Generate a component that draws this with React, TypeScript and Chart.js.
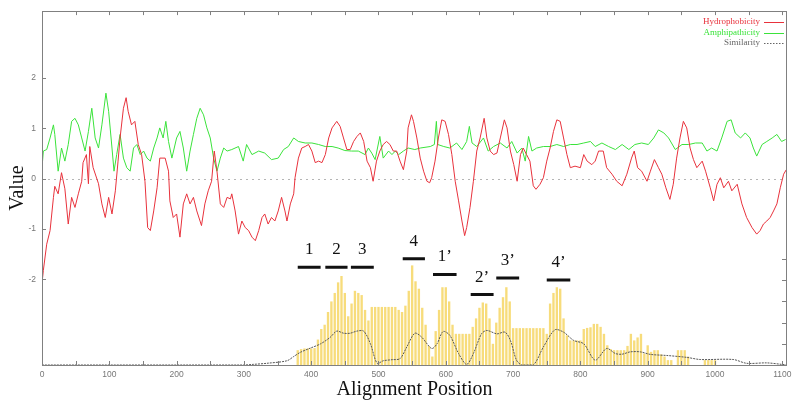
import React, { useEffect, useRef } from 'react';
import { Chart, registerables } from 'chart.js';
Chart.register(...registerables);

// ---- Hydrophobicity (red) ----
const hydroPos = [0,2,7,12,17,19,24,29,34,39,44,49,54,59,61,66,69,71,76,84,89,94,99,104,109,113,116,121,125,128,133,138,143,148,153,157,161,166,171,175,183,188,190,195,200,205,210,215,220,225,230,237,242,247,252,256,260,265,270,275,280,282,287,292,297,302,307,312,317,322,327,331,336,341,346,351,356,361,364,369,374,376,381,386,391,396,401,406,411,416,421,426,431,438,443,448,453,458,463,468,473,478,483,488,492,497,502,507,512,517,522,527,532,537,542,544,549,552,557,562,567,572,576,579,584,589,594,599,604,609,614,619,624,628,631,636,641,646,651,657,661,666,671,676,681,687,691,696,701,706,711,715,720,725,730,734,740,745,750,755,760,765,770,775,780,785,792,800,805,810,817,822,827,834,839,847,854,862,869,876,880,885,891,899,904,910,916,921,927,933,938,943,948,953,958,963,968,973,981,986,993,998,1003,1008,1013,1020,1025,1033,1040,1047,1055,1062,1067,1072,1077,1082,1087,1092,1097,1102,1106];
const hydroVal = [-2.08,-1.82,-1.3,-1.03,-0.37,-0.15,-0.3,0.12,-0.2,-0.9,-0.37,-0.57,-0.3,-0.05,0.32,0.48,-0.1,0.64,0.22,-0.1,-0.5,-0.77,-0.37,-0.7,-0.24,0.35,0.81,1.4,1.61,1.34,1.07,1.14,0.68,0.48,-0.05,-0.97,-1.03,-0.64,-0.18,0.41,0.41,0.15,-0.44,-0.77,-0.7,-1.16,-0.5,-0.3,-0.5,-0.37,-0.64,-0.93,-0.5,-0.24,-0.05,0.55,0.15,-0.5,-0.57,-0.37,-0.4,-0.3,-0.64,-1.1,-0.84,-0.97,-1.03,-1.16,-1.23,-1.03,-0.77,-0.7,-0.9,-0.77,-0.84,-0.64,-0.37,-0.64,-0.84,-0.5,-0.3,0.02,0.41,0.61,0.64,0.68,0.55,0.32,0.35,0.32,0.48,0.81,1.01,1.14,1.04,0.81,0.58,0.58,0.74,0.84,0.91,0.74,0.35,0.22,-0.05,0.35,0.55,0.68,0.74,0.68,0.55,0.55,0.35,0.18,0.55,1.01,1.27,1.14,0.81,0.41,0.15,-0.05,-0.08,0.02,0.35,0.81,1.17,1.14,0.88,0.48,-0.05,-0.44,-0.84,-1.13,-0.97,-0.57,-0.05,0.55,0.81,1.2,0.81,0.55,0.48,0.51,0.81,1.17,1.01,0.55,0.28,-0.05,0.48,0.61,0.48,0.35,-0.14,-0.21,-0.11,0.02,0.35,0.61,0.94,1.17,1.14,0.81,0.48,0.22,0.25,0.22,0.48,0.35,0.28,0.35,0.55,0.55,0.22,0.09,-0.05,-0.14,0.09,0.41,0.55,0.22,0.15,-0.05,0.15,0.38,0.22,0.09,-0.18,-0.41,-0.11,0.41,0.81,1.14,1.01,0.61,0.38,0.22,0.35,0.15,-0.18,-0.44,-0.11,0.02,-0.18,-0.05,-0.24,-0.11,-0.5,-0.77,-0.97,-1.1,-1.03,-0.9,-0.84,-0.77,-0.64,-0.5,-0.18,0.09,0.18];

// ---- Amphipathicity (green) ----
const amphiPos = [0,2,7,12,17,19,24,29,34,39,44,49,54,59,64,69,74,79,84,89,95,99,104,107,111,116,121,126,131,136,141,146,151,156,161,166,171,175,180,184,188,193,200,205,210,215,220,225,230,235,240,245,250,255,260,265,270,275,282,292,299,304,312,322,331,341,351,359,366,374,381,391,401,411,421,431,440,450,460,470,480,485,490,495,502,507,515,520,525,530,537,544,554,562,577,583,586,588,597,606,616,624,631,635,639,646,656,663,671,681,691,698,706,713,718,723,728,735,745,755,765,775,785,795,805,815,822,832,842,852,862,872,881,891,901,909,916,924,931,941,951,961,971,981,988,995,1003,1010,1018,1024,1030,1038,1045,1052,1057,1062,1070,1077,1085,1092,1099,1105];
const amphiVal = [0.22,0.55,0.58,0.81,1.07,0.88,0.15,0.61,0.35,0.68,1.14,1.2,1.07,0.81,0.55,0.94,1.4,0.81,0.61,1.07,1.7,1.34,0.61,0.15,0.48,0.88,0.41,0.22,0.15,0.61,0.68,0.48,0.55,0.41,0.35,0.61,0.81,1.01,0.81,1.14,0.74,0.41,0.81,0.94,0.61,0.15,0.55,0.88,1.2,1.4,1.27,1.01,0.81,0.41,0.15,0.41,0.61,0.55,0.58,0.64,0.35,0.68,0.48,0.55,0.51,0.38,0.41,0.58,0.64,0.81,0.74,0.71,0.71,0.68,0.64,0.64,0.61,0.56,0.55,0.55,0.48,0.61,0.51,0.38,0.84,0.41,0.55,0.48,0.55,0.48,0.55,0.61,0.58,0.61,0.64,0.68,1.14,0.68,0.64,0.61,0.71,0.58,0.74,1.04,0.71,0.64,0.81,0.55,0.64,0.71,0.61,0.74,0.51,0.61,0.35,0.84,0.55,0.61,0.64,0.64,0.68,0.64,0.68,0.68,0.71,0.74,0.64,0.71,0.64,0.58,0.68,0.58,0.68,0.71,0.68,0.81,0.97,0.91,0.81,0.58,0.68,0.68,0.71,0.71,0.55,0.61,0.55,0.81,1.14,1.17,0.91,0.81,0.91,0.81,0.61,0.45,0.68,0.74,0.81,0.88,0.74,0.78];

// ---- Similarity (dotted, right axis) ----
const simPos = [0,300,314,334,364,374,384,399,414,428,438,448,458,468,478,488,498,507,520,532,542,554,564,579,587,596,606,619,631,641,653,661,676,688,696,705,713,730,745,762,775,790,805,822,839,852,862,874,889,904,928,958,978,1027,1047,1077,1099,1107];
const simVal = [0,0,0.03,0.08,0.2,0.4,0.6,0.8,1.0,1.3,1.6,1.5,1.5,1.6,1.6,1.0,0.08,0.2,0.25,0.3,0.85,1.5,1.32,0.78,1.0,1.58,1.4,0.54,0.03,0.54,1.47,1.63,1.47,1.55,1.16,0.23,0,0,0.85,1.66,1.55,1.16,1.0,0.23,0.78,0.54,0.51,0.62,0.62,0.5,0.45,0.36,0.26,0.26,0.08,0.1,0.03,0];

// ---- Yellow bars (right axis), one bar every 5 positions from 380 ----
const barStart = 380;
const barStep = 5;
const barVal = [0.7,0.75,0.78,0.78,0.78,0.8,1.2,1.7,1.9,2.5,3.0,3.4,3.9,4.2,3.4,2.3,2.9,3.5,3.4,3.3,2.6,2.1,2.74,2.74,2.74,2.74,2.74,2.74,2.74,2.74,2.6,2.5,2.8,3.5,4.7,3.95,3.6,2.7,1.9,0.9,0.4,1.6,2.6,3.67,3.67,3.0,1.9,1.47,1.47,1.47,1.47,1.47,1.8,2.2,2.7,2.95,2.9,2.2,1.0,2.0,2.7,3.2,3.67,3.0,1.74,1.74,1.74,1.74,1.74,1.74,1.74,1.74,1.74,1.74,1.47,2.9,3.4,3.67,3.6,2.2,1.4,1.16,1.16,1.16,1.16,1.7,1.75,1.78,1.94,1.94,1.8,1.47,0.93,0.75,0.7,0.7,0.7,0.7,0.9,1.47,1.16,1.3,1.47,0.54,0.93,0.62,0.7,0.7,0.5,0.4,0.23,0.23,0,0.7,0.7,0.7,0.4,0,0,0,0,0.23,0.23,0.23,0.23];

// ---- Repeat segments ----
const segLabels = ['1', '2', '3', '4', '1\u2019', '2\u2019', '3\u2019', '4\u2019'];
const segStart = [380, 421, 459, 536, 581, 637, 675, 750];
const segEnd = [414, 454, 493, 569, 616, 671, 709, 785];
const segY = [-1.76, -1.76, -1.76, -1.59, -1.9, -2.3, -1.97, -2.01];

// ---- Ticks / legend ----
const xTicks = [0, 100, 200, 300, 400, 500, 600, 700, 800, 900, 1000, 1100];
const yTicks = [-2, -1, 0, 1, 2];
const y2Ticks = [1, 2, 3, 4, 5];
const legendItems = ['Hydrophobicity', 'Amphipathicity', 'Similarity'];

const RED = '#e8323c';
const GREEN = '#3be33b';
const GRAY = '#555555';
const YELLOW = 'rgba(246, 214, 100, 0.85)';
const FRAME = '#808080';

const zip = (p: number[], v: number[]) => p.map((x, i) => ({ x, y: v[i] }));

const decor = {
  id: 'decor',
  beforeDatasetsDraw(chart: any) {
    const { ctx, chartArea: a, scales } = chart;
    const y0 = Math.round(scales.y.getPixelForValue(0)) + 0.5;
    ctx.save();
    ctx.strokeStyle = '#b5b5b5';
    ctx.lineWidth = 1;
    ctx.setLineDash([2, 4]);
    ctx.beginPath();
    ctx.moveTo(a.left, y0);
    ctx.lineTo(a.right, y0);
    ctx.stroke();
    ctx.restore();
  },
  afterDatasetsDraw(chart: any) {
    const { ctx, chartArea: a, scales } = chart;
    const { x, y, y2 } = scales;
    ctx.save();
    ctx.strokeStyle = FRAME;
    ctx.lineWidth = 1;
    ctx.strokeRect(Math.round(a.left) + 0.5, Math.round(a.top) + 0.5, Math.round(a.right - a.left) - 1, Math.round(a.bottom - a.top));
    ctx.beginPath();
    for (let v = 0; v <= 1100; v += 50) {
      const px = Math.round(x.getPixelForValue(v)) + 0.5;
      ctx.moveTo(px, a.top);
      ctx.lineTo(px, a.top + 4);
      ctx.moveTo(px, a.bottom);
      ctx.lineTo(px, a.bottom - 4);
    }
    yTicks.forEach((v) => {
      const py = Math.round(y.getPixelForValue(v)) + 0.5;
      ctx.moveTo(a.left, py);
      ctx.lineTo(a.left + 4, py);
    });
    y2Ticks.forEach((v) => {
      const py = Math.round(y2.getPixelForValue(v)) + 0.5;
      ctx.moveTo(a.right, py);
      ctx.lineTo(a.right - 5, py);
    });
    ctx.stroke();

    ctx.fillStyle = '#111';
    ctx.font = '17px "Liberation Serif", serif';
    ctx.textAlign = 'center';
    ctx.textBaseline = 'alphabetic';
    segLabels.forEach((t, i) => {
      const px = x.getPixelForValue((segStart[i] + segEnd[i]) / 2);
      const py = y.getPixelForValue(segY[i]);
      ctx.fillText(t, px, py - 13);
    });

    const colors = [RED, GREEN, '#666'];
    ctx.font = '9px "Liberation Serif", serif';
    ctx.textAlign = 'right';
    ctx.textBaseline = 'middle';
    legendItems.forEach((t, i) => {
      const ly = a.top + 11 + i * 10.5;
      ctx.fillStyle = colors[i];
      ctx.fillText(t, a.right - 27, ly);
      ctx.strokeStyle = colors[i];
      ctx.lineWidth = 1;
      ctx.setLineDash(i === 2 ? [1.5, 1.5] : []);
      ctx.beginPath();
      ctx.moveTo(a.right - 23, Math.round(ly) + 0.5);
      ctx.lineTo(a.right - 3, Math.round(ly) + 0.5);
      ctx.stroke();
    });
    ctx.restore();
  },
};

export default function App() {
  const ref = useRef<HTMLCanvasElement>(null);
  useEffect(() => {
    if (!ref.current) return;
    const segData: any[] = [];
    segStart.forEach((s, i) => {
      segData.push({ x: s, y: segY[i] });
      segData.push({ x: segEnd[i], y: segY[i] });
      segData.push({ x: segEnd[i] + 1, y: null });
    });
    const barData = barVal.map((v, i) => ({ x: barStart + i * barStep, y: v }));
    const chart = new Chart(ref.current, {
      type: 'line',
      data: {
        datasets: [
          {
            type: 'line',
            label: 'segments',
            data: segData,
            borderColor: '#111',
            borderWidth: 3,
            pointRadius: 0,
            spanGaps: false,
            yAxisID: 'y',
            order: 0,
          },
          {
            type: 'line',
            label: 'Hydrophobicity',
            data: zip(hydroPos, hydroVal),
            borderColor: RED,
            borderWidth: 1,
            pointRadius: 0,
            tension: 0,
            yAxisID: 'y',
            order: 1,
          },
          {
            type: 'line',
            label: 'Amphipathicity',
            data: zip(amphiPos, amphiVal),
            borderColor: GREEN,
            borderWidth: 1,
            pointRadius: 0,
            tension: 0,
            yAxisID: 'y',
            order: 2,
          },
          {
            type: 'line',
            label: 'Similarity',
            data: zip(simPos, simVal),
            borderColor: GRAY,
            borderWidth: 1,
            borderDash: [2, 1],
            pointRadius: 0,
            tension: 0.3,
            yAxisID: 'y2',
            order: 3,
          },
          {
            type: 'bar',
            label: 'bars',
            data: barData,
            backgroundColor: YELLOW,
            borderWidth: 0,
            barPercentage: 0.7,
            categoryPercentage: 1,
            yAxisID: 'y2',
            order: 10,
          },
        ] as any,
      },
      options: {
        animation: false,
        responsive: true,
        maintainAspectRatio: false,
        layout: { padding: { top: 9, right: 13, left: 0, bottom: 0 } },
        plugins: { legend: { display: false }, tooltip: { enabled: false } },
        scales: {
          x: {
            type: 'linear',
            min: 0,
            max: 1107,
            offset: false,
            grid: { display: false, drawTicks: false },
            border: { display: false },
            afterBuildTicks: (s: any) => { s.ticks = xTicks.map((v) => ({ value: v })); },
            ticks: {
              autoSkip: false,
              maxRotation: 0,
              padding: 5,
              color: '#777',
              callback: (v: any) => String(v),
              font: { family: '"Liberation Sans", Arial, sans-serif', size: 8.5 },
            },
            title: {
              display: true,
              text: 'Alignment Position',
              color: '#111',
              font: { family: '"Liberation Serif", serif', size: 20 },
              padding: { top: 0, bottom: 5 },
            },
            afterFit: (s: any) => { s.height = 42; },
          },
          y: {
            type: 'linear',
            min: -3.7,
            max: 3.33,
            grid: { display: false, drawTicks: false },
            border: { display: false },
            afterBuildTicks: (s: any) => { s.ticks = yTicks.map((v) => ({ value: v })); },
            ticks: {
              padding: 6,
              color: '#777',
              font: { family: '"Liberation Sans", Arial, sans-serif', size: 8.5 },
            },
            title: {
              display: true,
              text: 'Value',
              color: '#111',
              font: { family: '"Liberation Serif", serif', size: 20 },
              padding: { top: 6, bottom: 0 },
            },
            afterFit: (s: any) => { s.width = 42; },
          },
          y2: {
            type: 'linear',
            display: false,
            position: 'right',
            min: 0,
            max: 16.7,
            grid: { display: false },
          },
        },
      } as any,
      plugins: [decor],
    });
    return () => chart.destroy();
  }, []);
  return (
    <div style={{ position: 'absolute', left: 0, top: 0, width: 800, height: 407, background: '#fff' }}>
      <canvas ref={ref} />
    </div>
  );
}
